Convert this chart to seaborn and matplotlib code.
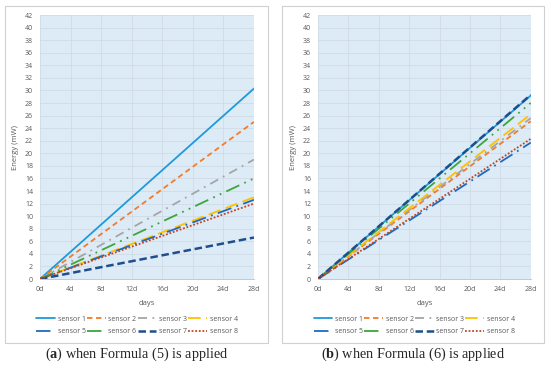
import numpy as np
import pandas as pd
import matplotlib
matplotlib.use('Agg')
import matplotlib.pyplot as plt
from matplotlib.patches import Rectangle
import seaborn as sns

## data (energy in mW at day 0 and day 28)
days = [0, 28]
sensors = ['sensor 1', 'sensor 2', 'sensor 3', 'sensor 4',
           'sensor 5', 'sensor 6', 'sensor 7', 'sensor 8']
end_a = [30.3, 25.0, 19.0, 13.0, 12.6, 16.0, 6.6, 12.0]
end_b = [29.2, 25.1, 25.6, 26.2, 21.7, 28.0, 29.3, 22.3]
xticks = [0, 4, 8, 12, 16, 20, 24, 28]
xticklabels = ['0d', '4d', '8d', '12d', '16d', '20d', '24d', '28d']
yticks = list(range(0, 43, 2))

## line looks (Excel style)
colors = ['#1E9ADB', '#F47B29', '#A5A5A5', '#FFC000',
          '#1F6BC4', '#3CA63A', '#1F4E8C', '#C0461E']
styles = ['-', (0, (3, 2)), (0, (5, 3, 1, 3)), (0, (7, 3)),
          (0, (8, 3, 1, 3)), (0, (8, 3, 1, 3, 1, 3)), (0, (3, 1.5)), (0, (1, 1))]
widths = [1.3, 1.3, 1.3, 1.3, 1.3, 1.3, 1.8, 1.3]

sns.set_theme(style='white')
plt.rcParams['font.family'] = ['Open Sans', 'DejaVu Sans']
plt.rcParams['mathtext.fontset'] = 'custom'
plt.rcParams['mathtext.rm'] = 'Liberation Serif'
plt.rcParams['mathtext.bf'] = 'Liberation Serif:bold'

fig = plt.figure(figsize=(5.5, 3.68), dpi=100)
fig.patch.set_facecolor('white')


def drawPanel(box, axpos, ends, caption, capx):
    fig.add_artist(Rectangle((box[0], box[1]), box[2], box[3], transform=fig.transFigure,
                             facecolor='white', edgecolor='#D0D0D0', lw=0.8, zorder=0))
    ax = fig.add_axes(axpos)
    ax.set_facecolor('#DDEBF7')
    for i, name in enumerate(sensors):
        df = pd.DataFrame({'days': days, 'energy': [0, ends[i]]})
        sns.lineplot(data=df, x='days', y='energy', ax=ax, color=colors[i],
                     linestyle=styles[i], linewidth=widths[i], label=name)
    ax.set_xlim(0, 28)
    ax.set_ylim(0, 42)
    ax.set_xticks(xticks)
    ax.set_xticklabels(xticklabels)
    ax.set_yticks(yticks)
    ax.grid(True, color='#CDD8E2', lw=0.5)
    for s in ax.spines.values():
        s.set_visible(False)
    ax.spines['bottom'].set_visible(True)
    ax.spines['bottom'].set_color('#BFBFBF')
    ax.spines['bottom'].set_linewidth(0.6)
    ax.tick_params(axis='both', length=0, labelsize=5, colors='#595959', pad=5)
    ax.set_xlabel('days', fontsize=5.5, color='#595959', labelpad=5)
    ax.set_ylabel('Energy (mW)', fontsize=5.5, color='#595959', labelpad=4)
    h, l = ax.get_legend_handles_labels()
    order = [0, 4, 1, 5, 2, 6, 3, 7]
    ax.legend([h[k] for k in order], [l[k] for k in order], ncol=4, loc='upper center',
              bbox_to_anchor=(axpos[0] + axpos[2] / 2 - 0.018, 0.152), bbox_transform=fig.transFigure,
              frameon=False, fontsize=5, handlelength=2.7, borderpad=0,
              columnspacing=0.15, handletextpad=0.4, labelspacing=0.85, labelcolor='#595959')
    fig.text(capx, 0.038, caption, ha='center', va='center', fontsize=10.3,
             family='Liberation Serif')


drawPanel((0.009, 0.068, 0.478, 0.916), [0.0727, 0.2418, 0.389, 0.7174],
          end_a, r'($\mathbf{a}$) when Formula (5) is applied', 0.249)
drawPanel((0.513, 0.068, 0.476, 0.916), [0.578, 0.2418, 0.387, 0.7174],
          end_b, r'($\mathbf{b}$) when Formula (6) is applied', 0.751)

plt.savefig('out.png', dpi=100)
